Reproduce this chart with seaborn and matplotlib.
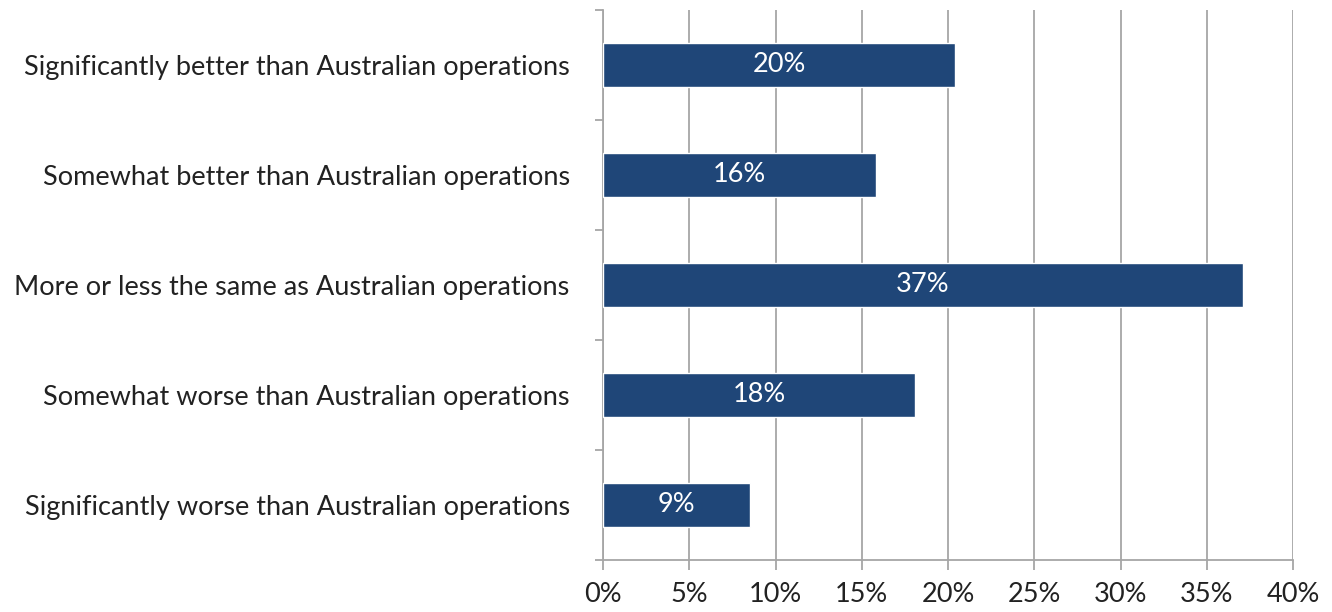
import seaborn as sns
import matplotlib.pyplot as plt
import pandas as pd
import numpy as np

categories = ["Significantly better than Australian operations",
              "Somewhat better than Australian operations",
              "More or less the same as Australian operations",
              "Somewhat worse than Australian operations",
              "Significantly worse than Australian operations"]
values = [20.4, 15.8, 37.1, 18.1, 8.5]
bar_labels = ["20%", "16%", "37%", "18%", "9%"]
x_ticks = [0, 5, 10, 15, 20, 25, 30, 35, 40]

sns.set_style("white")
plt.rcParams['font.family'] = ['Lato', 'DejaVu Sans']

df = pd.DataFrame({"category": categories, "value": values})

fig = plt.figure(figsize=(13.32, 6.12), dpi=100)
ax = fig.add_axes([603/1332, 1-560/612, (1293-603)/1332, (560-10)/612])

sns.barplot(data=df, x="value", y="category", orient="h", color="#1f4678",
            width=0.4, saturation=1, ax=ax, zorder=3)

ax.set_xlim(0, 40)
ax.set_ylim(4.5, -0.5)
ax.set_xticks(x_ticks)
ax.set_xticklabels([f"{t}%" for t in x_ticks], fontsize=19.5, color="#222222")
ax.tick_params(axis="x", bottom=True, direction="out", length=7, color="#a6a6a6", width=1.3, pad=9)
ax.tick_params(axis="y", which="major", left=True, length=0, labelsize=19.5, labelcolor="#222222", pad=24)
ax.set_yticks(np.arange(-0.5, 5.0, 1.0), minor=True)
ax.tick_params(axis="y", which="minor", left=True, direction="out", length=6, color="#a6a6a6", width=1.3)
ax.grid(axis="x", color="#a6a6a6", linewidth=1.3, zorder=0)
ax.set_axisbelow(True)
ax.set_xlabel("")
ax.set_ylabel("")
for s in ["top", "right"]:
    ax.spines[s].set_visible(False)
for s in ["left", "bottom"]:
    ax.spines[s].set_color("#a6a6a6")
    ax.spines[s].set_linewidth(1.3)

for i, (v, lab) in enumerate(zip(values, bar_labels)):
    ax.text(v / 2, i, lab, ha="center", va="center", color="white", fontsize=19.5, zorder=4)

fig.savefig("out.png", dpi=100)
